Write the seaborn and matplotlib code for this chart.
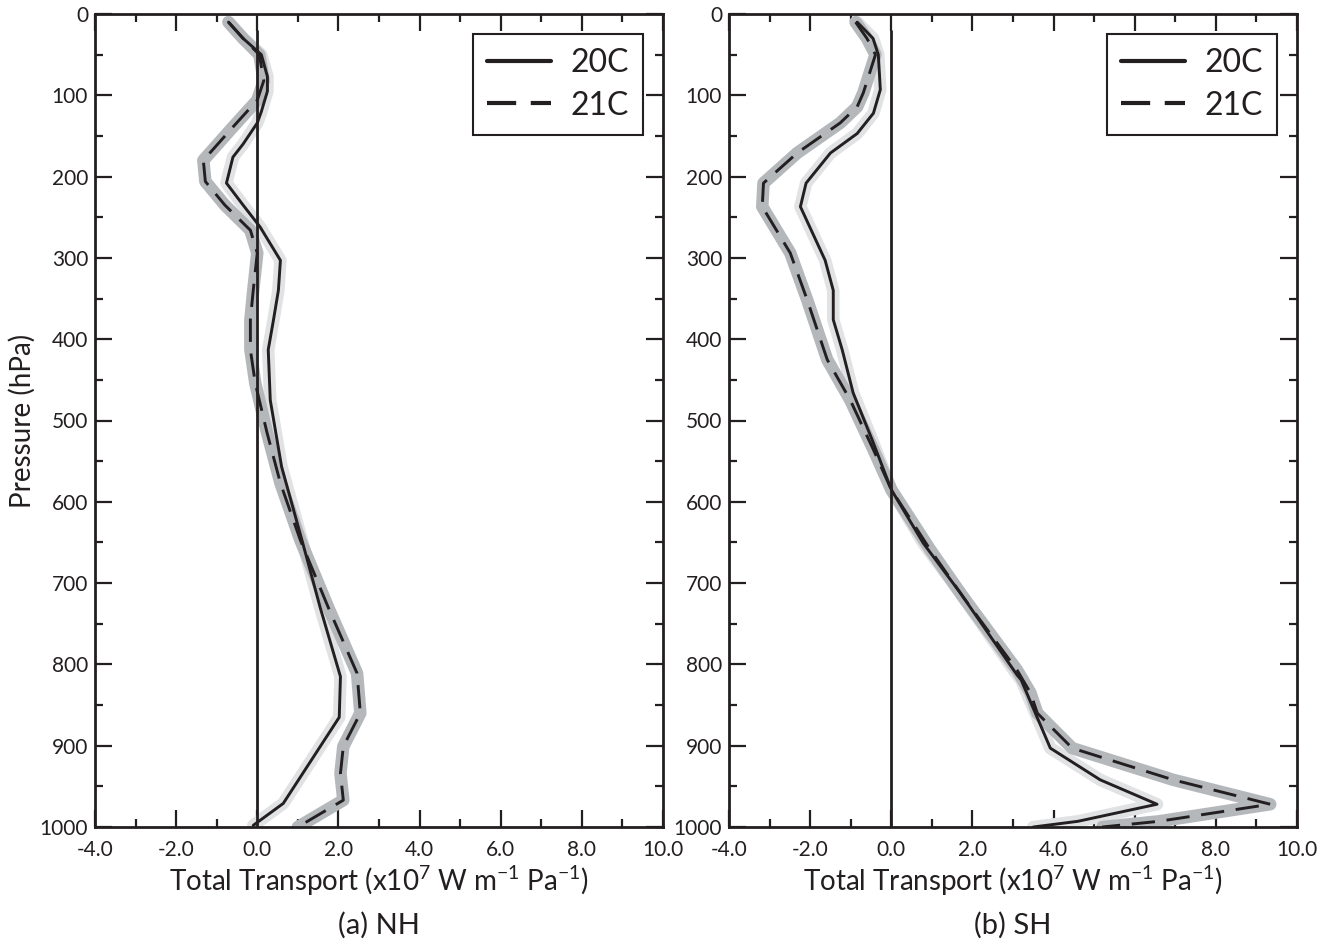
import numpy as np
import pandas as pd
import matplotlib
matplotlib.use("Agg")
import matplotlib.pyplot as plt
from matplotlib.ticker import MultipleLocator, FormatStrFormatter
from matplotlib.lines import Line2D
import seaborn as sns

# ---------------- data ----------------
nh_20c_p = [10, 30, 50, 77, 95, 120, 134, 160, 176, 208, 235, 262, 303, 340, 376, 413, 475, 557, 647, 730, 815, 865, 971, 998]
nh_20c_x = [-0.71, -0.35, 0.1, 0.25, 0.25, 0.1, 0.0, -0.35, -0.6, -0.76, -0.35, 0.07, 0.57, 0.52, 0.4, 0.27, 0.32, 0.6, 1.1, 1.55, 2.05, 2.02, 0.64, -0.1]

nh_21c_p = [10, 30, 50, 82, 106, 139, 180, 206, 235, 266, 294, 340, 376, 413, 454, 515, 577, 647, 730, 811, 860, 901, 934, 967, 1000]
nh_21c_x = [-0.71, -0.35, 0.05, 0.16, 0.0, -0.6, -1.33, -1.28, -0.8, -0.17, 0.0, -0.1, -0.17, -0.17, -0.05, 0.24, 0.57, 1.06, 1.75, 2.46, 2.54, 2.12, 2.05, 2.12, 1.0]

sh_20c_p = [10, 30, 50, 93, 122, 147, 171, 208, 237, 303, 340, 376, 413, 466, 524, 585, 651, 712, 813, 819, 903, 942, 972, 993, 1000]
sh_20c_x = [-0.84, -0.45, -0.32, -0.27, -0.44, -0.84, -1.5, -2.1, -2.24, -1.63, -1.43, -1.43, -1.21, -0.94, -0.47, 0.0, 0.79, 1.7, 3.1, 3.2, 3.92, 5.15, 6.55, 4.6, 3.5]

sh_21c_p = [10, 30, 50, 97, 114, 134, 171, 208, 237, 294, 352, 425, 475, 536, 585, 659, 717, 807, 835, 860, 903, 942, 972, 993, 1000]
sh_21c_x = [-0.88, -0.6, -0.39, -0.69, -0.84, -1.26, -2.32, -3.15, -3.18, -2.49, -2.07, -1.58, -1.01, -0.44, 0.0, 0.96, 1.77, 3.1, 3.43, 3.6, 4.46, 6.95, 9.34, 6.6, 5.2]

series_labels = ["20C", "21C"]
panel_titles = ["(a) NH", "(b) SH"]
x_ticks = [-4.0, -2.0, 0.0, 2.0, 4.0, 6.0, 8.0, 10.0]
y_ticks = [0, 100, 200, 300, 400, 500, 600, 700, 800, 900, 1000]

# ---------------- style ----------------
sns.set_style("white")
plt.rcParams["font.family"] = ["Lato", "DejaVu Sans"]
plt.rcParams["mathtext.default"] = "regular"
plt.rcParams["axes.unicode_minus"] = False

INK = "#231f20"
BAND_20 = "#e1e2e4"
BAND_21 = "#b5b8bb"
DASH = (0, (8, 4))

fig = plt.figure(figsize=(13.19, 9.41), dpi=100)
ax_l = fig.add_axes([95 / 1319, 1 - 827 / 941, 568 / 1319, 813 / 941])
ax_r = fig.add_axes([729 / 1319, 1 - 827 / 941, 568 / 1319, 813 / 941])

panels = [
    (ax_l, nh_20c_p, nh_20c_x, nh_21c_p, nh_21c_x, panel_titles[0]),
    (ax_r, sh_20c_p, sh_20c_x, sh_21c_p, sh_21c_x, panel_titles[1]),
]

for ax, p20, x20, p21, x21, title in panels:
    d20 = pd.DataFrame({"p": p20, "x": x20})
    d21 = pd.DataFrame({"p": p21, "x": x21})
    # shaded spread bands (thick soft strokes)
    sns.lineplot(data=d20, x="x", y="p", orient="y", estimator=None, sort=True,
                 color=BAND_20, linewidth=9, solid_joinstyle="round",
                 solid_capstyle="round", ax=ax, legend=False)
    sns.lineplot(data=d21, x="x", y="p", orient="y", estimator=None, sort=True,
                 color=BAND_21, linewidth=9, solid_joinstyle="round",
                 solid_capstyle="round", ax=ax, legend=False)
    # zero line
    ax.vlines(0, 20, 1000, color=INK, linewidth=2.0, zorder=3)
    # mean lines
    sns.lineplot(data=d20, x="x", y="p", orient="y", estimator=None, sort=True,
                 color=INK, linewidth=2.1, ax=ax, legend=False)
    ax.lines[-1].set_zorder(4)
    sns.lineplot(data=d21, x="x", y="p", orient="y", estimator=None, sort=True,
                 color=INK, linewidth=2.1, linestyle=DASH, ax=ax, legend=False)
    ax.lines[-1].set_zorder(4)

    ax.set_xlim(-4, 10)
    ax.set_ylim(1000, 0)
    ax.set_xticks(x_ticks)
    ax.set_yticks(y_ticks)
    ax.xaxis.set_major_formatter(FormatStrFormatter("%.1f"))
    ax.xaxis.set_minor_locator(MultipleLocator(1.0))
    ax.yaxis.set_minor_locator(MultipleLocator(50))
    ax.tick_params(which="both", direction="in", top=True, right=True,
                   bottom=True, left=True, width=1.6, color=INK,
                   labelsize=15, labelcolor=INK)
    ax.tick_params(axis="x", which="both", pad=9)
    ax.tick_params(axis="y", which="both", pad=5)
    ax.tick_params(which="major", length=12)
    ax.tick_params(which="minor", length=6)
    for s in ax.spines.values():
        s.set_linewidth(2.0)
        s.set_color(INK)
        s.set_visible(True)

    ax.set_xlabel(r"Total Transport (x10$^{7}$ W m$^{-1}$ Pa$^{-1}$)",
                  fontsize=20, color=INK, labelpad=3)
    ax.set_ylabel("")

    h20 = Line2D([], [], color=INK, linewidth=3.0)
    h21 = Line2D([], [], color=INK, linewidth=3.0, linestyle=(0, (7, 3.5)))
    leg = ax.legend([h20, h21], series_labels, loc="upper right",
                    fontsize=23, frameon=True, fancybox=False, framealpha=1.0,
                    handlelength=2.0, handletextpad=0.6,
                    borderpad=0.45, labelspacing=0.4,
                    bbox_to_anchor=(0.965, 0.976), borderaxespad=0.0)
    leg.get_frame().set_edgecolor(INK)
    leg.get_frame().set_linewidth(1.5)
    for t in leg.get_texts():
        t.set_color(INK)

    pos = ax.get_position()
    fig.text((pos.x0 + pos.x1) / 2, 1 - 925 / 941, title, ha="center",
             va="center", fontsize=21, color=INK)

ax_l.set_ylabel("Pressure (hPa)", fontsize=20, color=INK, labelpad=3)

fig.savefig("out.png", dpi=100)
